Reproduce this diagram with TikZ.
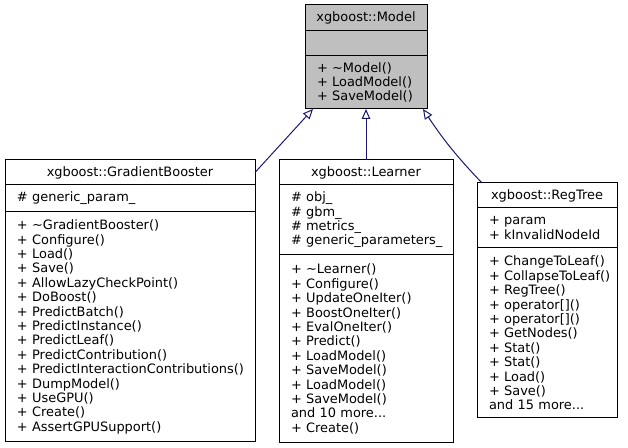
\documentclass[tikz,border=0pt]{standalone}
\usepackage{fontspec}
\setmainfont{DejaVu Sans}
\usetikzlibrary{arrows.meta,positioning}
\definecolor{edgeblue}{RGB}{25,25,112}
\definecolor{basegray}{RGB}{191,191,191}
\newcommand{\umlfont}{\fontsize{9.7pt}{10.8pt}\selectfont}
\tikzset{
classpart/.style={draw=black, line width=0.75pt, outer sep=0pt, inner xsep=0pt, inner ysep=0pt, align=left, font=\umlfont, execute at begin node={\leftskip=9pt\relax}},
classhead/.style={draw=black, line width=0.75pt, outer sep=0pt, inner xsep=0pt, inner ysep=0pt, align=center, font=\umlfont},
inherit/.style={draw=edgeblue, line width=0.75pt, -{Triangle[open, length=7.5pt, width=6.5pt]}}
}

\begin{document}
\begin{tikzpicture}[x=0.75pt,y=0.75pt,yscale=-1,xscale=1]
\useasboundingbox (0,0) rectangle (628,448);

%Class: Model
\node[classhead, fill=basegray, text width=91.5pt, minimum height=19.5pt, anchor=north west] (mtitle) at (305,5) {xgboost::Model};
\node[classpart, fill=basegray, text width=91.5pt, minimum height=18.75pt, below=0pt of mtitle] (mattr) {};
\node[classpart, fill=basegray, text width=91.5pt, minimum height=39.75pt, below=0pt of mattr] (mops) {+ \textasciitilde Model()\\+ LoadModel()\\+ SaveModel()};

%Class: GradientBooster
\node[classhead, text width=187.5pt, minimum height=18.75pt, anchor=north west] (gtitle) at (5,160) {xgboost::GradientBooster};
\node[classpart, text width=187.5pt, minimum height=20.25pt, below=0pt of gtitle] (gattr) {\# generic\_param\_};
\node[classpart, text width=187.5pt, minimum height=172.5pt, below=0pt of gattr] (gops) {+ \textasciitilde GradientBooster()\\+ Configure()\\+ Load()\\+ Save()\\+ AllowLazyCheckPoint()\\+ DoBoost()\\+ PredictBatch()\\+ PredictInstance()\\+ PredictLeaf()\\+ PredictContribution()\\+ PredictInteractionContributions()\\+ DumpModel()\\+ UseGPU()\\+ Create()\\+ AssertGPUSupport()};

%Class: Learner
\node[classhead, text width=130.5pt, minimum height=18.75pt, anchor=north west] (ltitle) at (279,160) {xgboost::Learner};
\node[classpart, text width=130.5pt, minimum height=52.5pt, below=0pt of ltitle] (lattr) {\# obj\_\\\# gbm\_\\\# metrics\_\\\# generic\_parameters\_};
\node[classpart, text width=130.5pt, minimum height=141pt, below=0pt of lattr] (lops) {+ \textasciitilde Learner()\\+ Configure()\\+ UpdateOneIter()\\+ BoostOneIter()\\+ EvalOneIter()\\+ Predict()\\+ LoadModel()\\+ SaveModel()\\+ LoadModel()\\+ SaveModel()\\and 10 more...\\+ Create()};

%Class: RegTree
\node[classhead, text width=105pt, minimum height=18.75pt, anchor=north west] (rtitle) at (477,183) {xgboost::RegTree};
\node[classpart, text width=105pt, minimum height=30pt, below=0pt of rtitle] (rattr) {+ param\\+ kInvalidNodeId};
\node[classpart, text width=105pt, minimum height=127.5pt, below=0pt of rattr] (rops) {+ ChangeToLeaf()\\+ CollapseToLeaf()\\+ RegTree()\\+ operator[]()\\+ operator[]()\\+ GetNodes()\\+ Stat()\\+ Stat()\\+ Load()\\+ Save()\\and 15 more...};

%Inheritance
\draw[inherit] (gtitle.east) -- ([xshift=6pt]mops.south west);
\draw[inherit] (ltitle.north) -- (mops.south);
\draw[inherit] ([xshift=3.75pt]rtitle.north west) to[bend right=5] ([xshift=-3pt]mops.south east);

\end{tikzpicture}
\end{document}
